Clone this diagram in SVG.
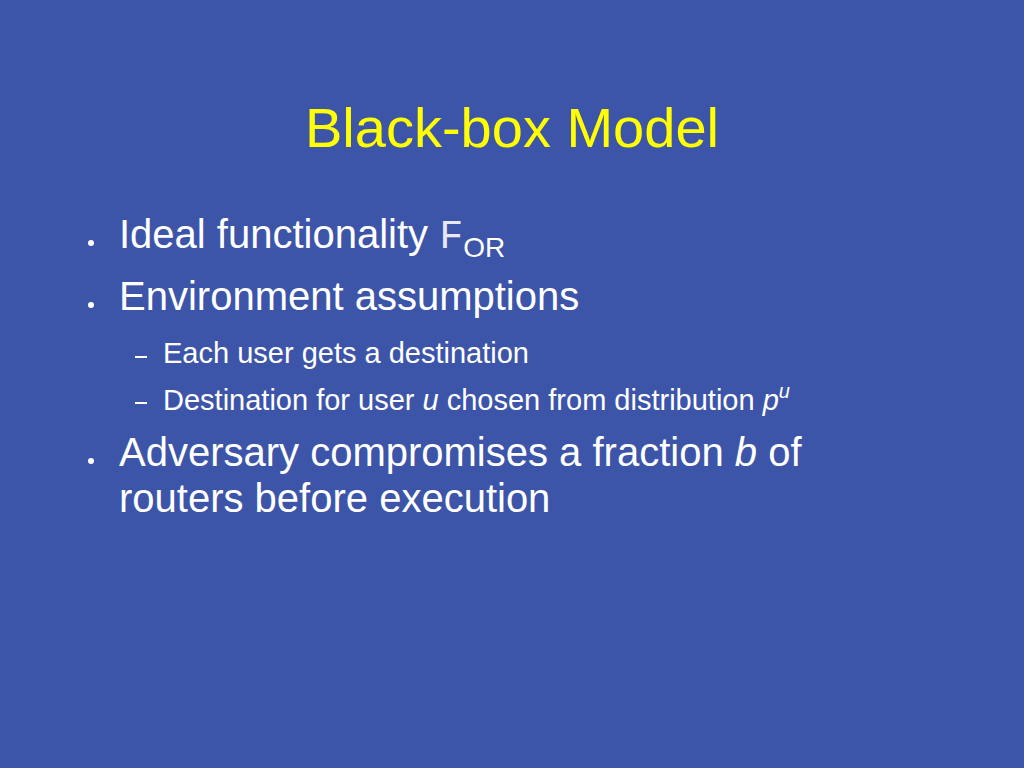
<svg xmlns="http://www.w3.org/2000/svg" width="1024" height="768" viewBox="0 0 1024 768">
<style>
text{font-family:"Liberation Sans",Arial,sans-serif;fill:#fff}
.t{fill:#ffff00;font-size:56px}
.l1{font-size:40px}
.l2{font-size:29px}
</style>
<rect width="1024" height="768" fill="#3d55a9"/>
<text class="t" x="512" y="147" text-anchor="middle">Black-box Model</text>
<g class="l1">
<circle cx="91" cy="243" r="3" fill="#fff"/>
<text x="119" y="248">Ideal functionality <tspan font-family="Liberation Mono,monospace" fill="#e8e8f0">F</tspan><tspan font-size="28" dy="9">OR</tspan></text>
<circle cx="91" cy="305" r="3" fill="#fff"/>
<text x="119" y="310">Environment assumptions</text>
<rect x="135" y="356" width="12" height="2" fill="#fff"/>
<text class="l2" x="163" y="363">Each user gets a destination</text>
<rect x="135" y="402" width="12" height="2" fill="#fff"/>
<text class="l2" x="163" y="410">Destination for user <tspan font-style="italic">u</tspan> chosen from distribution <tspan font-style="italic">p</tspan><tspan font-style="italic" font-size="20" dy="-12">u</tspan></text>
<circle cx="91" cy="461" r="3" fill="#fff"/>
<text x="119" y="466">Adversary compromises a fraction <tspan font-style="italic">b</tspan> of</text>
<text x="119" y="512">routers before execution</text>
</g>
</svg>
